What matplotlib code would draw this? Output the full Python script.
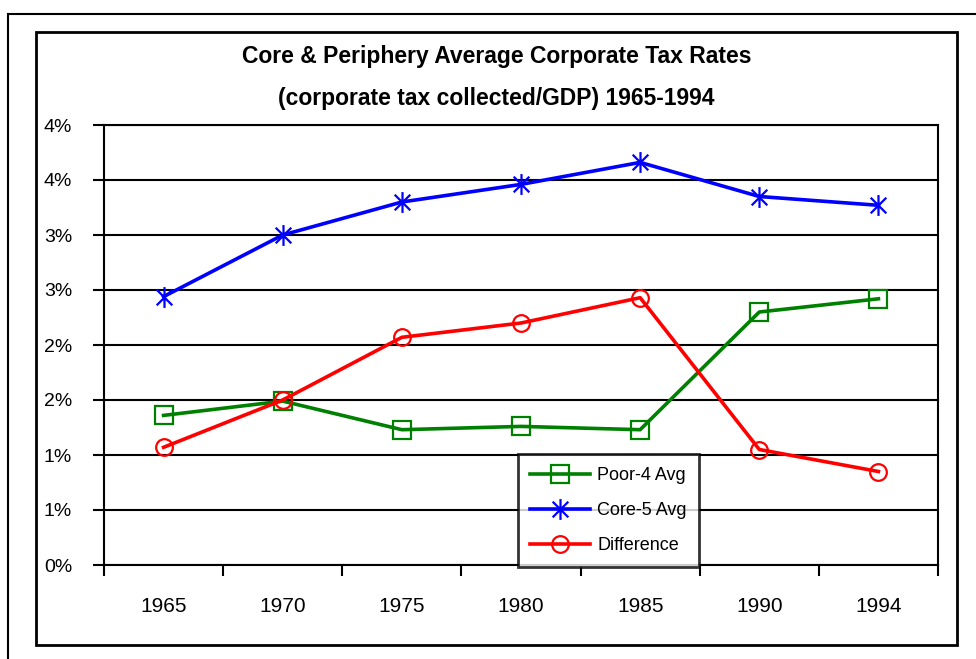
import matplotlib
matplotlib.use("Agg")
import matplotlib.pyplot as plt
from matplotlib.patches import Rectangle
from matplotlib.path import Path
import numpy as np

plt.rcParams['font.family'] = ['Liberation Sans', 'DejaVu Sans']

years = ["1965", "1970", "1975", "1980", "1985", "1990", "1994"]
poor4 = [1.36, 1.49, 1.23, 1.26, 1.23, 2.30, 2.42]
core5 = [2.44, 3.00, 3.30, 3.46, 3.66, 3.35, 3.27]
difference = [1.07, 1.50, 2.07, 2.20, 2.43, 1.05, 0.85]
y_ticks = [0, 0.5, 1.0, 1.5, 2.0, 2.5, 3.0, 3.5, 4.0]
y_tick_labels = ["0%", "1%", "1%", "2%", "2%", "3%", "3%", "4%", "4%"]
title_lines = ["Core & Periphery Average Corporate Tax Rates",
               "(corporate tax collected/GDP) 1965-1994"]

W, H = 976, 659
fig = plt.figure(figsize=(W / 100, H / 100), dpi=100)

def fx(px):
    return px / W

def fy(py):
    return 1 - py / H

# outer frame (cut off at right/bottom)
fig.patches.append(Rectangle((fx(8), fy(700)), fx(1100), fy(14) - fy(700),
                             transform=fig.transFigure, fill=False,
                             edgecolor='black', linewidth=1.5))
# inner chart-area frame
fig.patches.append(Rectangle((fx(36), fy(645)), fx(957) - fx(36), fy(32) - fy(645),
                             transform=fig.transFigure, fill=False,
                             edgecolor='black', linewidth=2))

ax = fig.add_axes([fx(104), fy(565), fx(938) - fx(104), fy(125) - fy(565)])

x = np.arange(len(years))

star = Path([(0, -1), (0, 1), (-0.75, -0.75), (0.75, 0.75), (-0.75, 0.75), (0.75, -0.75)],
            [Path.MOVETO, Path.LINETO, Path.MOVETO, Path.LINETO, Path.MOVETO, Path.LINETO])

ax.plot(x, poor4, color='#008000', linewidth=2.6, marker='s', markersize=13,
        markerfacecolor='none', markeredgecolor='#008000', markeredgewidth=1.6,
        label='Poor-4 Avg', zorder=3)
ax.plot(x, core5, color='#0000FF', linewidth=2.6, marker=star, markersize=15,
        markerfacecolor='none', markeredgecolor='#0000FF', markeredgewidth=1.6,
        label='Core-5 Avg', zorder=3)
ax.plot(x, difference, color='#FF0000', linewidth=2.6, marker='o', markersize=12,
        markerfacecolor='none', markeredgecolor='#FF0000', markeredgewidth=1.6,
        label='Difference', zorder=3)

ax.set_xlim(-0.5, len(years) - 0.5)
ax.set_ylim(0, 4.0)

ax.set_yticks(y_ticks)
ax.set_yticklabels(y_tick_labels, fontsize=14)
ax.yaxis.grid(True, color='black', linewidth=1.5)
ax.set_axisbelow(True)

ax.set_xticks(x)
ax.set_xticklabels(years, fontsize=15)
ax.set_xticks(np.arange(-0.5, len(years)), minor=True)
ax.tick_params(axis='x', which='major', length=0, pad=23)
ax.tick_params(axis='x', which='minor', length=8, width=1.5, direction='out')
ax.tick_params(axis='y', which='major', length=8, width=1.5, direction='out', pad=15)

for s in ax.spines.values():
    s.set_linewidth(1.5)
    s.set_color('black')

leg = ax.legend(loc='lower left', bbox_to_anchor=(0.496, -0.004), fontsize=13,
                frameon=True, fancybox=False, edgecolor='black', borderpad=0.7,
                labelspacing=1.0, handlelength=3.3, handletextpad=0.4,
                borderaxespad=0)
leg.get_frame().set_linewidth(2)
leg.set_zorder(5)

fig.text(fx(496.5), fy(57), title_lines[0], ha='center', va='center',
         fontsize=16.5, fontweight='bold')
fig.text(fx(496.5), fy(99), title_lines[1], ha='center', va='center',
         fontsize=16.5, fontweight='bold')

fig.savefig('out.png', dpi=100)
